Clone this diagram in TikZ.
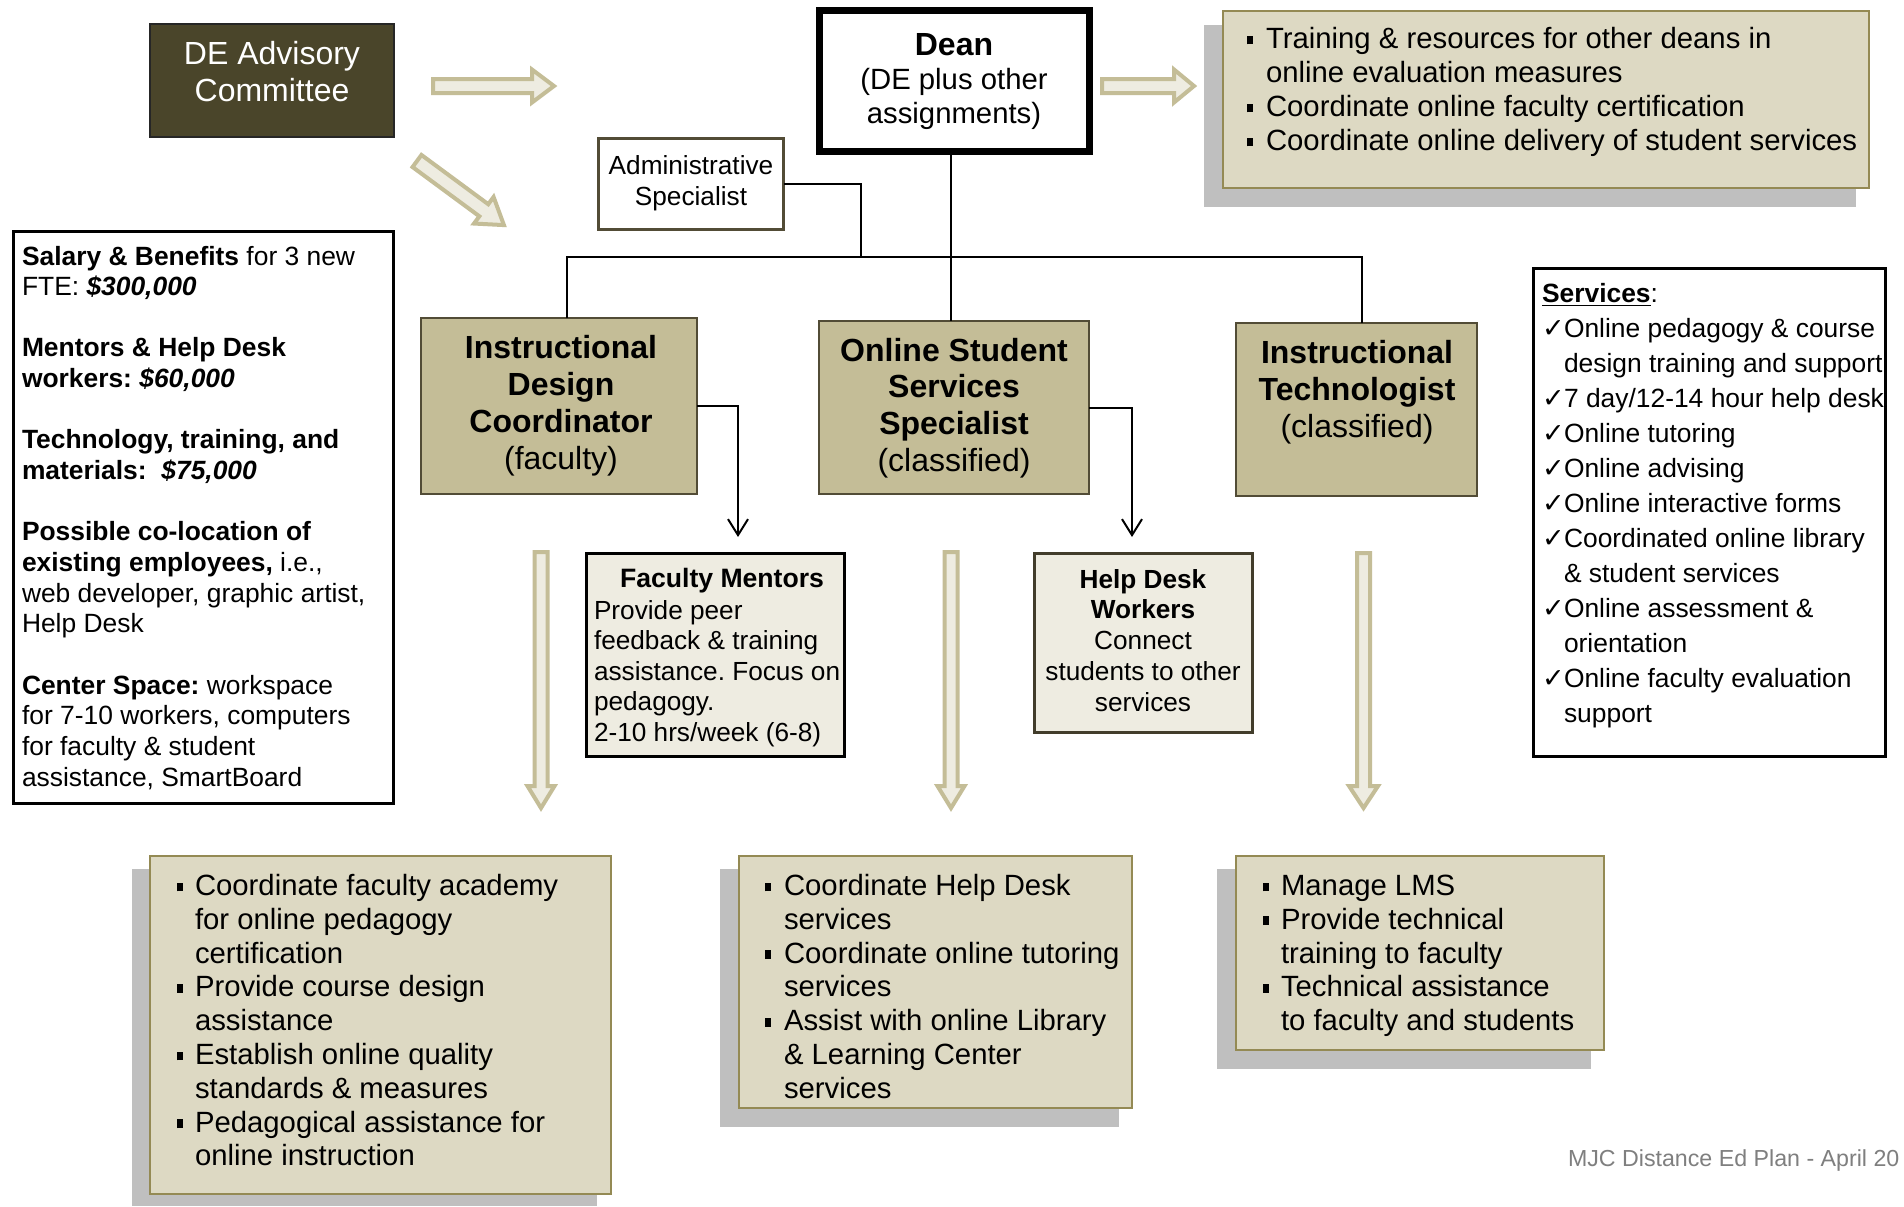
\documentclass[tikz,border=0pt]{standalone}
\usepackage{fontspec}
\setmainfont{Liberation Sans}
\newfontfamily\dejavu{DejaVu Sans}
\usetikzlibrary{fit,arrows.meta}
\definecolor{darkolive}{HTML}{4A452A}
\definecolor{tanfill}{HTML}{C4BD97}
\definecolor{tanborder}{HTML}{524C36}
\definecolor{lightfill}{HTML}{DDD9C3}
\definecolor{olivebd}{HTML}{948A54}
\definecolor{paper}{HTML}{EEECE1}
\definecolor{shadowgray}{HTML}{BFBFBF}
\definecolor{footgray}{HTML}{7F7F7F}
\frenchspacing
\newcommand\bulx[1]{\makebox[#1][l]{\rule[0.14em]{0.22em}{0.3em}}}
\newcommand\chk{\makebox[11pt][l]{\dejavu\fontsize{13.5}{13.5}\selectfont ✓}}
\newcommand\bkarrow[7]{%
  \begin{scope}[shift={(#1,#2)},rotate=#3]
    \draw[barrow] (0,-#5) -- ({#4-#7},-#5) -- ({#4-#7},-#6) -- (#4,0) -- ({#4-#7},#6) -- ({#4-#7},#5) -- (0,#5) -- cycle;
  \end{scope}}
\begin{document}
\begin{tikzpicture}[x=0.5pt,y=-0.5pt,
  box/.style={rectangle, inner sep=0pt, outer sep=0pt},
  txt/.style={inner sep=0pt, outer sep=0pt},
  tanbox/.style={box, fill=tanfill, draw=tanborder, line width=1.2pt},
  listbox/.style={box, fill=lightfill, draw=olivebd, line width=1.3pt},
  shadowbox/.style={box, fill=shadowgray},
  conn/.style={draw=black, line width=1pt},
  barrow/.style={fill=paper, draw=tanfill, line width=2pt, line join=miter}]
\useasboundingbox (0,0) rectangle (1904,1206);
\fill[white] (0,0) rectangle (1904,1206);

% ---- top row
\node[box, fill=darkolive, draw=black!85, line width=0.8pt, fit={(150,24) (394,137)}] (deac) {};
\node[txt, anchor=base, text=white] (deact) at (272,64)
  {\fontsize{16}{18.5}\selectfont\begin{tabular}[t]{@{}c@{}}DE Advisory\\Committee\end{tabular}};

\node[box, fill=white, draw=black, line width=3.5pt, fit={(819.5,10.5) (1089.5,151.5)}] (dean) {};
\node[txt, anchor=base] (deant) at (954,55)
  {\fontsize{14.65}{17}\selectfont\begin{tabular}[t]{@{}c@{}}{\fontsize{16}{18}\selectfont\bfseries Dean}\\(DE plus other\\assignments)\end{tabular}};

\node[box, fill=white, draw=tanborder, line width=1.5pt, fit={(598.5,138.5) (783.5,229.5)}] (admin) {};
\node[txt, anchor=base] (admint) at (691,174)
  {\fontsize{13.1}{15.5}\selectfont\begin{tabular}[t]{@{}c@{}}Administrative\\Specialist\end{tabular}};

\node[shadowbox, fit={(1204,25) (1856,207)}] (trsh) {};
\node[listbox, fit={(1223,11) (1869,188)}] (tr) {};
\node[txt, anchor=base west] (trt) at (1247,48.5)
  {\fontsize{14.65}{17}\selectfont\begin{tabular}[t]{@{}l@{}}
  \bulx{9.5pt}Training \& resources for other deans in\\
  \hspace*{9.5pt}online evaluation measures\\
  \bulx{9.5pt}Coordinate online faculty certification\\
  \bulx{9.5pt}Coordinate online delivery of student services
  \end{tabular}};

% ---- block arrows
\bkarrow{433}{86}{0}{121}{7}{16.5}{22}
\bkarrow{1102}{86}{0}{92}{7}{16.5}{20}
\bkarrow{417}{161}{-36.4}{108}{7.5}{16.5}{25}
\bkarrow{541}{552}{-90}{256}{6.5}{13.5}{22}
\bkarrow{951}{552}{-90}{256}{6.5}{13.5}{22}
\bkarrow{1363.5}{553}{-90}{255}{6.5}{14.5}{22}

% ---- left info box
\node[box, fill=white, draw=black, line width=1.5pt, fit={(13.5,231.5) (393.5,803.5)}] (budget) {};
\node[txt, anchor=base west] (budgett) at (22,265)
  {\fontsize{13.2}{15.33}\selectfont\begin{tabular}[t]{@{}l@{}}
  \textbf{Salary \& Benefits} for 3 new\\
  FTE: \textbf{\textit{\$300,000}}\\
  \\
  \textbf{Mentors \& Help Desk}\\
  \textbf{workers: \textit{\$60,000}}\\
  \\
  \textbf{Technology, training, and}\\
  \textbf{materials:\ \ \textit{\$75,000}}\\
  \\
  \textbf{Possible co-location of}\\
  \textbf{existing employees,} i.e.,\\
  web developer, graphic artist,\\
  Help Desk\\
  \\
  \textbf{Center Space:} workspace\\
  for 7-10 workers, computers\\
  for faculty \& student\\
  assistance, SmartBoard
  \end{tabular}};

% ---- services box
\node[box, fill=white, draw=black, line width=1.5pt, fit={(1533.5,268.5) (1885.5,756.5)}] (serv) {};
\node[txt, anchor=base west] (servt) at (1542,302)
  {\fontsize{13.2}{17.5}\selectfont\begin{tabular}[t]{@{}l@{}}
  \underline{\textbf{Services}}:\\
  \chk Online pedagogy \& course\\
  \hspace*{11pt}design training and support\\
  \chk 7 day/12-14 hour help desk\\
  \chk Online tutoring\\
  \chk Online advising\\
  \chk Online interactive forms\\
  \chk Coordinated online library\\
  \hspace*{11pt}\& student services\\
  \chk Online assessment \&\\
  \hspace*{11pt}orientation\\
  \chk Online faculty evaluation\\
  \hspace*{11pt}support
  \end{tabular}};

% ---- role boxes
\node[tanbox, fit={(421,318) (697,494)}] (idc) {};
\node[txt, anchor=base] (idct) at (561,358)
  {\fontsize{16}{18.5}\selectfont\begin{tabular}[t]{@{}c@{}}\textbf{Instructional}\\\textbf{Design}\\\textbf{Coordinator}\\(faculty)\end{tabular}};

\node[tanbox, fit={(819,321) (1089,494)}] (osss) {};
\node[txt, anchor=base] (ossst) at (954,361)
  {\fontsize{16}{18.4}\selectfont\begin{tabular}[t]{@{}c@{}}\textbf{Online Student}\\\textbf{Services}\\\textbf{Specialist}\\(classified)\end{tabular}};

\node[tanbox, fit={(1236,323) (1477,496)}] (it) {};
\node[txt, anchor=base] (itt) at (1357,363)
  {\fontsize{16}{18.5}\selectfont\begin{tabular}[t]{@{}c@{}}\textbf{Instructional}\\\textbf{Technologist}\\(classified)\end{tabular}};

% ---- worker boxes
\node[box, fill=paper, draw=black, line width=1.5pt, fit={(586.5,553.5) (844.5,756.5)}] (fm) {};
\node[txt, anchor=base] (fmtitle) at (722,587)
  {\fontsize{13.3}{15.5}\selectfont\bfseries Faculty Mentors};
\node[txt, anchor=base west] (fmt) at (594,619)
  {\fontsize{13.1}{15.25}\selectfont\begin{tabular}[t]{@{}l@{}}Provide peer\\feedback \& training\\assistance. Focus on\\pedagogy.\\2-10 hrs/week (6-8)\end{tabular}};

\node[box, fill=paper, draw=tanborder!80!black, line width=1.5pt, fit={(1034.5,553.5) (1252.5,732.5)}] (hd) {};
\node[txt, anchor=base] (hdt) at (1143,588)
  {\fontsize{13.1}{15.4}\selectfont\begin{tabular}[t]{@{}c@{}}\textbf{Help Desk}\\\textbf{Workers}\\Connect\\students to other\\services\end{tabular}};

% ---- bottom lists
\node[shadowbox, fit={(132,869) (597,1206)}] (ash) {};
\node[listbox, fit={(150,856) (611,1194)}] (boxa) {};
\node[txt, anchor=base west] (boxat) at (177,895.5)
  {\fontsize{14.65}{16.9}\selectfont\begin{tabular}[t]{@{}l@{}}
  \bulx{9pt}Coordinate faculty academy\\
  \hspace*{9pt}for online pedagogy\\
  \hspace*{9pt}certification\\
  \bulx{9pt}Provide course design\\
  \hspace*{9pt}assistance\\
  \bulx{9pt}Establish online quality\\
  \hspace*{9pt}standards \& measures\\
  \bulx{9pt}Pedagogical assistance for\\
  \hspace*{9pt}online instruction
  \end{tabular}};

\node[shadowbox, fit={(720,869) (1119,1127)}] (bsh) {};
\node[listbox, fit={(739,856) (1132,1108)}] (boxb) {};
\node[txt, anchor=base west] (boxbt) at (765,895.5)
  {\fontsize{14.65}{16.9}\selectfont\begin{tabular}[t]{@{}l@{}}
  \bulx{9.5pt}Coordinate Help Desk\\
  \hspace*{9.5pt}services\\
  \bulx{9.5pt}Coordinate online tutoring\\
  \hspace*{9.5pt}services\\
  \bulx{9.5pt}Assist with online Library\\
  \hspace*{9.5pt}\& Learning Center\\
  \hspace*{9.5pt}services
  \end{tabular}};

\node[shadowbox, fit={(1217,869) (1591,1069)}] (csh) {};
\node[listbox, fit={(1236,856) (1604,1050)}] (boxc) {};
\node[txt, anchor=base west] (boxct) at (1263,895.5)
  {\fontsize{14.65}{16.9}\selectfont\begin{tabular}[t]{@{}l@{}}
  \bulx{9pt}Manage LMS\\
  \bulx{9pt}Provide technical\\
  \hspace*{9pt}training to faculty\\
  \bulx{9pt}Technical assistance\\
  \hspace*{9pt}to faculty and students
  \end{tabular}};

% ---- connectors
\coordinate (adj) at (861,257);
\coordinate (busL) at (567,257);
\coordinate (busR) at (1362,257);
\coordinate (deanx) at (951,0);
\coordinate (fmin) at (738,537);
\coordinate (hdin) at (1132,537);
\draw[conn] (admin.east) -| (adj);
\draw[conn] (busL |- idc.north) -- (busL) -- (busR) -- (busR |- it.north);
\draw[conn] (dean.south -| deanx) -- (osss.north -| deanx);
\draw[conn, -{Straight Barb[length=8pt,width=10pt,line width=1pt]}] (idc.east) -| (fmin);
\draw[conn, -{Straight Barb[length=8pt,width=10pt,line width=1pt]}] (osss.east) -| (hdin);

% ---- footer
\node[txt, anchor=base west, text=footgray] (foot) at (1568,1166)
  {\fontsize{11.6}{13}\selectfont MJC Distance Ed Plan - April 20};
\end{tikzpicture}
\end{document}
